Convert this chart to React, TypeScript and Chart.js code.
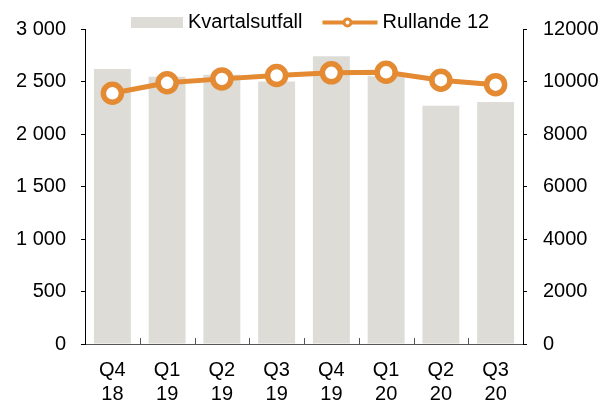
import React, { useEffect, useRef } from "react";
import { Chart, registerables } from "chart.js";

Chart.register(...registerables);

const categories: string[][] = [
  ["Q4", "18"], ["Q1", "19"], ["Q2", "19"], ["Q3", "19"],
  ["Q4", "19"], ["Q1", "20"], ["Q2", "20"], ["Q3", "20"],
];
const kvartalsutfall: number[] = [2620, 2545, 2565, 2500, 2740, 2550, 2270, 2305];
const rullande12: number[] = [9550, 9950, 10100, 10230, 10330, 10350, 10050, 9880];
const leftTicks = { min: 0, max: 3000, step: 500 };
const rightTicks = { min: 0, max: 12000, step: 2000 };
const seriesNames = ["Kvartalsutfall", "Rullande 12"];

const FONT = "'Liberation Sans', Arial, sans-serif";
const BAR_COLOR = "#DDDCD7";
const LINE_COLOR = "#E38A33";

const fmtSpace = (v: number) =>
  String(Math.round(v)).replace(/\B(?=(\d{3})+(?!\d))/g, " ");

const extrasPlugin = {
  id: "extras",
  afterDraw(chart: any) {
    const ctx = chart.ctx as CanvasRenderingContext2D;
    const area = chart.chartArea;
    const xs = chart.scales.x;
    // inward category ticks at boundaries
    ctx.save();
    ctx.strokeStyle = "#555";
    ctx.lineWidth = 1;
    const n = categories.length;
    for (let i = 1; i < n; i++) {
      const x = Math.round((xs.getPixelForValue(i - 1) + xs.getPixelForValue(i)) / 2) + 0.5;
      ctx.beginPath();
      ctx.moveTo(x, area.bottom);
      ctx.lineTo(x, area.bottom - 6);
      ctx.stroke();
    }
    ctx.restore();

    // legend
    ctx.save();
    ctx.font = `20px ${FONT}`;
    ctx.textBaseline = "middle";
    ctx.textAlign = "left";
    ctx.fillStyle = "#000";
    const cy = 22.5;
    let x = 131;
    ctx.fillStyle = BAR_COLOR;
    ctx.fillRect(x, 17, 52, 11);
    x += 57;
    ctx.fillStyle = "#000";
    ctx.fillText(seriesNames[0], x, cy);
    x += ctx.measureText(seriesNames[0]).width + 20;
    ctx.strokeStyle = LINE_COLOR;
    ctx.lineWidth = 4;
    ctx.beginPath();
    ctx.moveTo(x, cy);
    ctx.lineTo(x + 55, cy);
    ctx.stroke();
    ctx.beginPath();
    ctx.arc(x + 25, cy, 3.5, 0, Math.PI * 2);
    ctx.fillStyle = "#fff";
    ctx.fill();
    ctx.lineWidth = 3;
    ctx.stroke();
    ctx.fillStyle = "#000";
    ctx.fillText(seriesNames[1], x + 60, cy);
    ctx.restore();
  },
};

export default function App() {
  const ref = useRef<HTMLCanvasElement | null>(null);

  useEffect(() => {
    if (!ref.current) return;
    const chart = new Chart(ref.current, {
      type: "bar",
      data: {
        labels: categories,
        datasets: [
          {
            type: "line",
            label: seriesNames[1],
            data: rullande12,
            yAxisID: "y1",
            borderColor: LINE_COLOR,
            borderWidth: 5,
            pointRadius: 9,
            pointBorderWidth: 5.5,
            pointBackgroundColor: "#fff",
            pointBorderColor: LINE_COLOR,
            tension: 0,
            order: 0,
            clip: false,
          } as any,
          {
            type: "bar",
            label: seriesNames[0],
            data: kvartalsutfall,
            yAxisID: "y",
            backgroundColor: BAR_COLOR,
            barPercentage: 0.675,
            categoryPercentage: 1,
            order: 1,
          },
        ],
      },
      options: {
        responsive: false,
        animation: false,
        layout: { padding: { top: 29, left: 0, right: 0, bottom: 0 } },
        plugins: { legend: { display: false }, tooltip: { enabled: false } },
        scales: {
          x: {
            offset: true,
            grid: { display: false, drawTicks: false },
            border: { display: true, color: "#555", width: 1 },
            ticks: {
              color: "#000",
              font: { family: FONT, size: 20, lineHeight: 1.2 },
              padding: 14,
              maxRotation: 0,
              autoSkip: false,
            },
            afterFit: (s: any) => { s.height = 59; },
          },
          y: {
            position: "left",
            min: leftTicks.min,
            max: leftTicks.max,
            grid: { drawOnChartArea: false, drawTicks: true, tickLength: 4, tickColor: "#000" },
            border: { display: true, color: "#000", width: 1 },
            ticks: {
              stepSize: leftTicks.step,
              color: "#000",
              font: { family: FONT, size: 20 },
              padding: 15,
              callback: (v: any) => fmtSpace(Number(v)),
            },
            afterFit: (s: any) => { s.width = 85; },
          },
          y1: {
            position: "right",
            min: rightTicks.min,
            max: rightTicks.max,
            grid: { drawOnChartArea: false, drawTicks: true, tickLength: 4, tickColor: "#000" },
            border: { display: true, color: "#000", width: 1 },
            ticks: {
              stepSize: rightTicks.step,
              color: "#000",
              font: { family: FONT, size: 20 },
              padding: 16,
              callback: (v: any) => String(v),
            },
            afterFit: (s: any) => { s.width = 81; },
          },
        },
      },
      plugins: [extrasPlugin],
    });
    return () => chart.destroy();
  }, []);

  return (
    <div style={{ position: "fixed", left: 0, top: 0, width: 604, height: 403, background: "#fff" }}>
      <canvas ref={ref} width={604} height={403} style={{ display: "block" }} />
    </div>
  );
}
